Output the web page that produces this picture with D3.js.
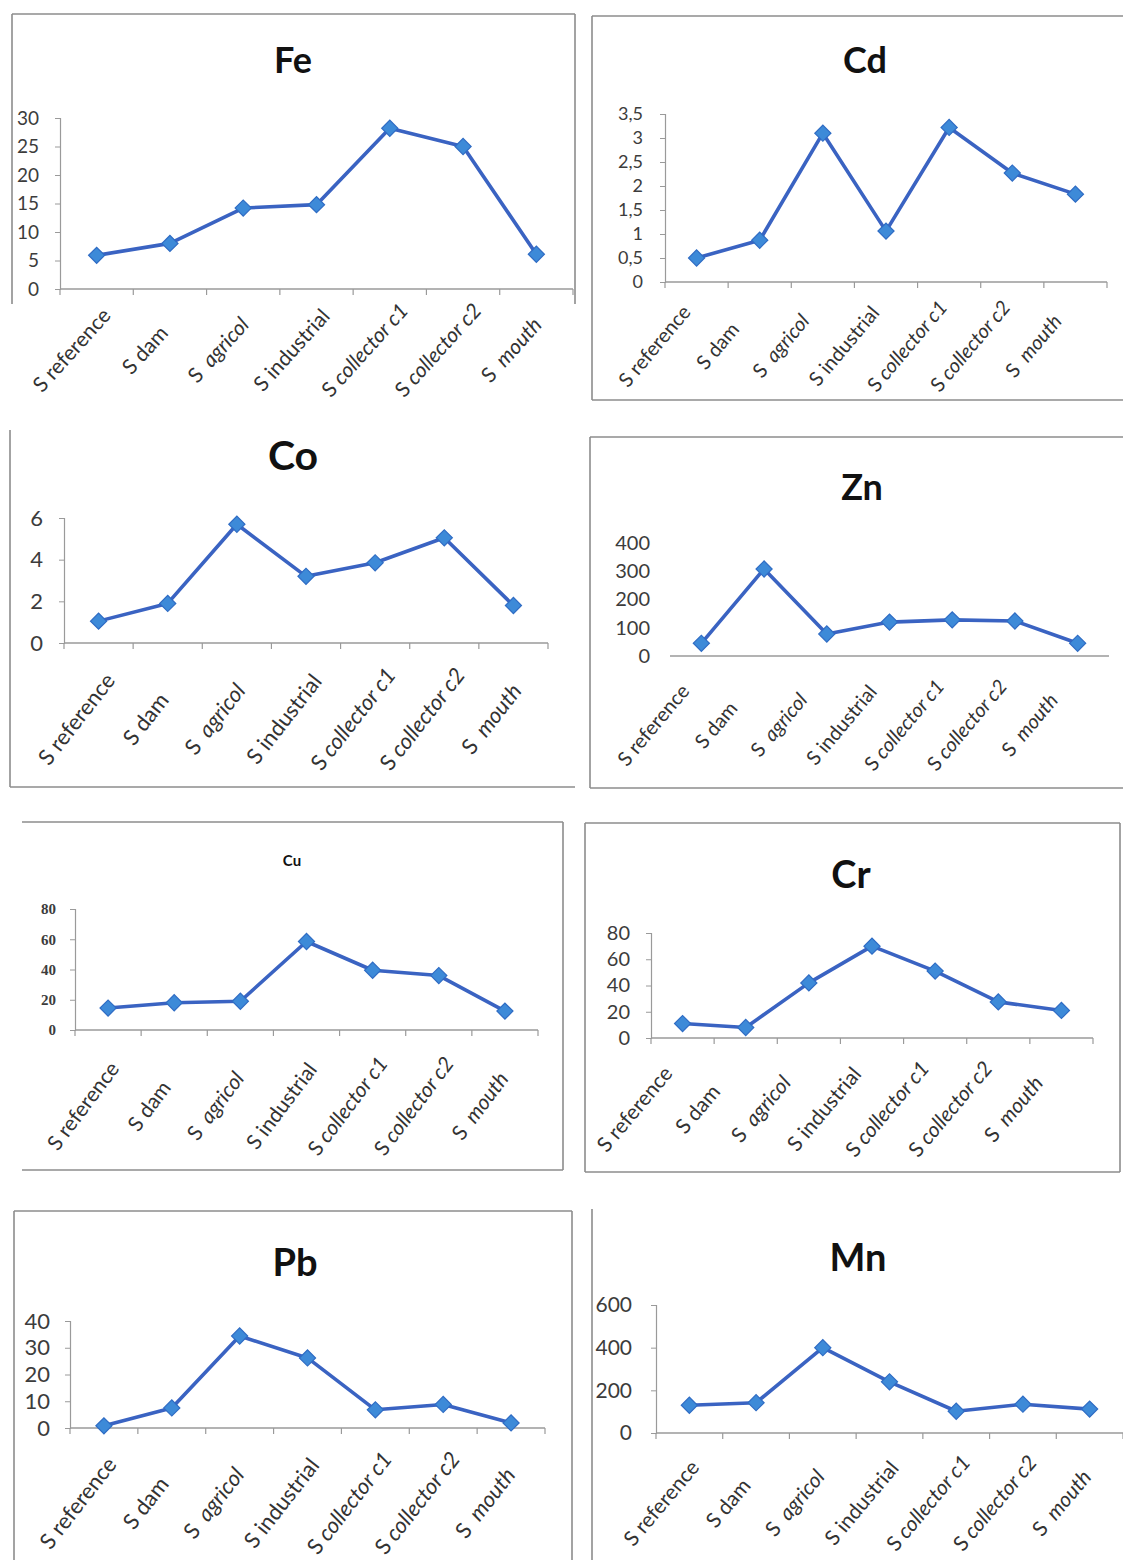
<!DOCTYPE html>
<html><head><meta charset="utf-8">
<script src="https://cdn.jsdelivr.net/npm/d3@7"></script>
<style>body{margin:0;background:#fff}</style>
</head><body>
<svg id="c" width="1123" height="1560"></svg>
<script>
// ---------- data ----------
const categories = ["S reference","S dam","S  agricol","S industrial","S collector c1","S collector c2","S  mouth"];
const feValues = [5.9, 8.0, 14.2, 14.8, 28.2, 25.0, 6.1];
const cdValues = [0.5, 0.87, 3.1, 1.06, 3.22, 2.27, 1.83];
const coValues = [1.05, 1.9, 5.7, 3.2, 3.85, 5.05, 1.8];
const znValues = [45, 308, 78, 120, 128, 124, 45];
const cuValues = [14.5, 18, 19, 58.5, 39.5, 36, 12.5];
const crValues = [11, 8, 42, 70, 51, 27.5, 21];
const pbValues = [0.8, 7.5, 34.4, 26.2, 6.8, 8.8, 1.9];
const mnValues = [130, 142, 400, 240, 102, 135, 112];

const feTicks = [0, 5, 10, 15, 20, 25, 30];
const cdTicks = [0, 0.5, 1, 1.5, 2, 2.5, 3, 3.5];
const coTicks = [0, 2, 4, 6];
const znTicks = [0, 100, 200, 300, 400];
const cuTicks = [0, 20, 40, 60, 80];
const crTicks = [0, 20, 40, 60, 80];
const pbTicks = [0, 10, 20, 30, 40];
const mnTicks = [0, 200, 400, 600];

const italicIdx = new Set([2, 4, 5, 6]);

// ---------- layout ----------
const commaFmt = d => String(d).replace(".", ",");
const panels = [
  {title:"Fe", values:feValues, ticks:feTicks, fmt:String,
   box:{x:12,y:14,w:563,h:290,sides:"tlr"}, plot:{l:60,r:573,b:289,t:118},
   tt:{x:293,y:73,size:36}, tickSize:19, pad:16, lab:{size:21, dx:-25, dy:61, rot:-48}},
  {title:"Cd", values:cdValues, ticks:cdTicks, fmt:commaFmt,
   box:{x:592,y:16,w:540,h:384,sides:"tlb"}, plot:{l:665,r:1107,b:282,t:114},
   tt:{x:865,y:73,size:36}, tickSize:18, pad:17, lab:{size:20, dx:-42, dy:64, rot:-50}},
  {title:"Co", values:coValues, ticks:coTicks, fmt:String,
   box:{x:10,y:430,w:565,h:357,sides:"lb"}, plot:{l:64,r:548,b:643,t:518},
   tt:{x:293,y:470,size:41}, tickSize:22, pad:16, lab:{size:22, dx:-22, dy:76, rot:-52}},
  {title:"Zn", values:znValues, ticks:znTicks, fmt:String,
   box:{x:590,y:437,w:540,h:351,sides:"tlb"}, plot:{l:670,r:1109,b:656,t:543},
   tt:{x:862,y:500,size:36}, tickSize:20, pad:20, noYAxis:true, noXTicks:true,
   lab:{size:20, dx:-48, dy:69, rot:-50}},
  {title:"Cu", values:cuValues, ticks:cuTicks, fmt:String,
   box:{x:22,y:822,w:541,h:348,sides:"trb"}, plot:{l:75,r:538,b:1030,t:909},
   tt:{x:292,y:866,size:15, weight:"bold"}, tickSize:15, pad:14, serifTicks:true,
   lab:{size:21, dx:-25, dy:76, rot:-53}},
  {title:"Cr", values:crValues, ticks:crTicks, fmt:String,
   box:{x:585,y:823,w:535,h:349,sides:"tlrb"}, plot:{l:651,r:1093,b:1038,t:933},
   tt:{x:851,y:888,size:38}, tickSize:20, pad:16, lab:{size:21, dx:-48, dy:71, rot:-50}},
  {title:"Pb", values:pbValues, ticks:pbTicks, fmt:String,
   box:{x:14,y:1211,w:558,h:360,sides:"tlr"}, plot:{l:70,r:545,b:1428,t:1321},
   tt:{x:295,y:1276,size:38}, tickSize:22, pad:15, lab:{size:22, dx:-26, dy:75, rot:-52}},
  {title:"Mn", values:mnValues, ticks:mnTicks, fmt:String,
   box:{x:592,y:1209,w:540,h:360,sides:"l"}, plot:{l:656,r:1123,b:1433,t:1305},
   tt:{x:858,y:1271,size:38}, tickSize:21, pad:19, lab:{size:21, dx:-28, dy:70, rot:-50}}
];

const svg = d3.select("#c");
const FONT = "Lato, 'Open Sans', sans-serif";
const LINE = "#3a63c2", MFILL = "#3d8ad8", MSTROKE = "#2f6cc4", AXIS = "#9a9a9a";

panels.forEach(p => {
  const g = svg.append("g");
  // border
  const b = p.box, bc = "#8c8c8c";
  const seg = (x1,y1,x2,y2) => g.append("line").attr("x1",x1).attr("y1",y1).attr("x2",x2).attr("y2",y2)
      .attr("stroke",bc).attr("stroke-width",1.6);
  if (b.sides.includes("t")) seg(b.x,b.y,b.x+b.w,b.y);
  if (b.sides.includes("l")) seg(b.x,b.y,b.x,b.y+b.h);
  if (b.sides.includes("r")) seg(b.x+b.w,b.y,b.x+b.w,b.y+b.h);
  if (b.sides.includes("b")) seg(b.x,b.y+b.h,b.x+b.w,b.y+b.h);

  // title
  g.append("text").attr("x",p.tt.x).attr("y",p.tt.y).attr("text-anchor","middle")
    .attr("font-family",FONT).attr("font-weight",p.tt.weight||"bold").attr("font-size",p.tt.size)
    .attr("fill","#111").text(p.title);

  const x = d3.scaleBand().domain(categories).range([p.plot.l,p.plot.r]).paddingInner(0).paddingOuter(0);
  const y = d3.scaleLinear().domain([d3.min(p.ticks), d3.max(p.ticks)]).range([p.plot.b,p.plot.t]);

  // y axis
  const ya = g.append("g").attr("transform",`translate(${p.plot.l},0)`)
    .call(d3.axisLeft(y).tickValues(p.ticks).tickFormat(p.fmt).tickSize(p.noYAxis?0:5).tickPadding(p.pad));
  ya.select(".domain").attr("stroke", p.noYAxis ? "none" : AXIS).attr("stroke-width",1.2);
  ya.selectAll(".tick line").attr("stroke",AXIS);
  ya.selectAll(".tick text").attr("fill","#3c3c3c")
    .attr("font-family", p.serifTicks ? "'Liberation Serif', 'DejaVu Serif', serif" : FONT)
    .attr("font-weight", p.serifTicks ? "bold" : "normal")
    .attr("font-size",p.tickSize);

  // x axis line
  g.append("line").attr("x1",p.plot.l).attr("x2",p.plot.r).attr("y1",p.plot.b).attr("y2",p.plot.b)
    .attr("stroke",AXIS).attr("stroke-width",1.4);
  if (!p.noXTicks) {
    const bounds = categories.map(c => x(c)).concat([x(categories[categories.length-1]) + x.bandwidth()]);
    g.selectAll(".xt").data(bounds).join("line")
      .attr("x1",d=>d).attr("x2",d=>d).attr("y1",p.plot.b).attr("y2",p.plot.b+6)
      .attr("stroke",AXIS).attr("stroke-width",1.2);
  }
  // x labels rotated, centred under category
  const cx = c => x(c) + x.bandwidth()/2;
  const lab = g.selectAll(".xl").data(categories).join("text")
    .attr("transform", c => `translate(${cx(c)+p.lab.dx},${p.plot.b+p.lab.dy}) rotate(${p.lab.rot})`)
    .attr("text-anchor","middle").attr("dy","0.35em")
    .attr("font-family",FONT).attr("font-size",p.lab.size).attr("fill","#333")
    .style("white-space","pre");
  lab.each(function(c,i){
    const t = d3.select(this);
    t.append("tspan").text(c.slice(0,1));
    t.append("tspan").attr("font-style", italicIdx.has(i) ? "italic" : "normal").text(c.slice(1));
  });

  // line
  const line = d3.line().x((d,i)=>cx(categories[i])).y(d=>y(d));
  g.append("path").datum(p.values).attr("d",line).attr("fill","none")
    .attr("stroke",LINE).attr("stroke-width",3.6).attr("stroke-linejoin","round");
  // markers
  const sym = d3.symbol().type(d3.symbolSquare).size(130);
  g.selectAll(".mk").data(p.values).join("path")
    .attr("d",sym)
    .attr("transform",(d,i)=>`translate(${cx(categories[i])},${y(d)}) rotate(45)`)
    .attr("fill",MFILL).attr("stroke",MSTROKE).attr("stroke-width",1.2);
});
</script>
</body></html>
